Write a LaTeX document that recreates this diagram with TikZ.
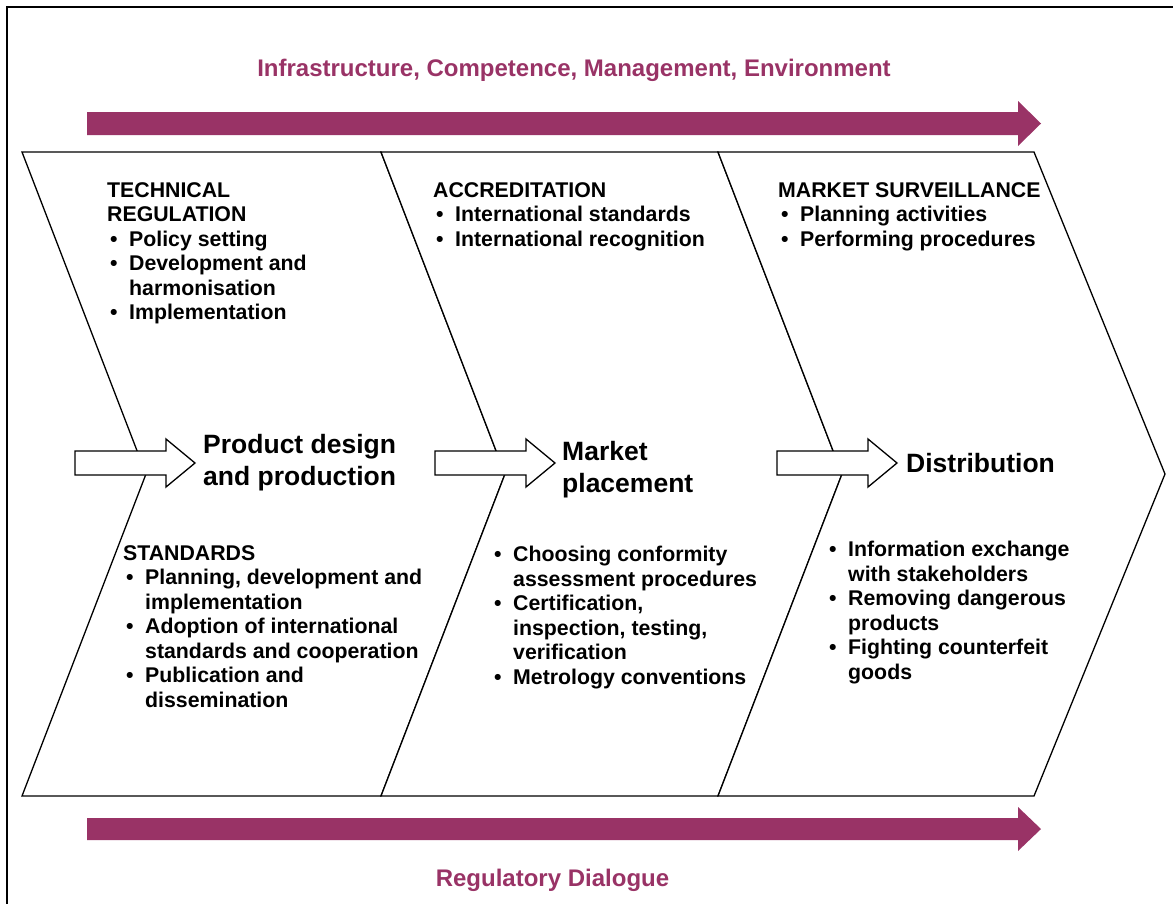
\documentclass[tikz,border=0pt]{standalone}
\usepackage{fontspec}
\setmainfont{Liberation Sans}
\usepackage{tikz}
\usetikzlibrary{positioning}
\definecolor{plum}{RGB}{153,51,102}
\newcommand{\blt}{\makebox[22pt][l]{\hspace{3pt}\textbullet}}
\newcommand{\cnt}{\makebox[22pt]{}}

\begin{document}
\begin{tikzpicture}[x=1pt,y=-1pt,
    chev/.style={draw=black, line width=1.3pt, fill=white, line join=miter},
    band/.style={fill=plum, draw=none},
    blockarrow/.style={draw=black, line width=1.3pt, fill=white, line join=miter},
    bandlabel/.style={text=plum, font=\fontsize{24}{28}\selectfont\bfseries, inner sep=0pt, anchor=base},
    stagelabel/.style={font=\fontsize{26.5}{32}\selectfont\bfseries, align=left, inner sep=0pt},
    listbox/.style={font=\fontsize{21.3}{24.5}\selectfont\bfseries, align=left, inner sep=0pt, anchor=north west}]
    \useasboundingbox (0,0) rectangle (1173,903);
    \clip (0,0) rectangle (1173,903);
    \draw[line width=2pt] (7,910) -- (7,7) -- (1180,7);

    % bands top and bottom
    \fill[band] (87,112) -- (1018,112) -- (1018,101) -- (1041,123.5) -- (1018,146) -- (1018,135) -- (87,135) -- cycle;
    \fill[band] (87,818) -- (1018,818) -- (1018,807) -- (1041,829) -- (1018,851) -- (1018,840) -- (87,840) -- cycle;
    \node[bandlabel] (infra) at (574,76) {Infrastructure, Competence, Management, Environment};
    \node[bandlabel] (dialogue) at (552.5,886) {Regulatory Dialogue};

    % the three stages
    \draw[chev] (22,152) -- (381,152) -- (505,474) -- (381,796) -- (22,796) -- (146,474) -- cycle;
    \draw[chev] (381,152) -- (718,152) -- (842,474) -- (718,796) -- (381,796) -- (505,474) -- cycle;
    \draw[chev] (718,152) -- (1034,152) -- (1165,474) -- (1034,796) -- (718,796) -- (842,474) -- cycle;

    \draw[blockarrow, shift={(75,0)}] (0,451) -- (91,451) -- (91,439) -- (120,463) coordinate (t1) -- (91,487) -- (91,475) -- (0,475) -- cycle;
    \draw[blockarrow, shift={(435,0)}] (0,451) -- (91,451) -- (91,439) -- (120,463) coordinate (t2) -- (91,487) -- (91,475) -- (0,475) -- cycle;
    \draw[blockarrow, shift={(777,0)}] (0,451) -- (91,451) -- (91,439) -- (120,463) coordinate (t3) -- (91,487) -- (91,475) -- (0,475) -- cycle;

    \node[stagelabel, right=8pt of t1] (design) {Product design\\and production};
    \node[stagelabel, right=7pt of t2, yshift=-7pt] (placement) {Market\\placement};
    \node[stagelabel, right=9pt of t3] (distrib) {Distribution};

    % upper lists
    \node[listbox] (techreg) at (107,182) {TECHNICAL\\REGULATION\\\blt Policy setting\\\blt Development and\\\cnt harmonisation\\\blt Implementation};
    \node[listbox] (accred) at (433,182) {ACCREDITATION\\\blt International standards\\\blt International recognition};
    \node[listbox] (surv) at (778,182) {MARKET SURVEILLANCE\\\blt Planning activities\\\blt Performing procedures};

    % lower lists
    \node[listbox] (standards) at (123,545) {STANDARDS\\\blt Planning, development and\\\cnt implementation\\\blt Adoption of international\\\cnt standards and cooperation\\\blt Publication and\\\cnt dissemination};
    \node[listbox] (conformity) at (491,546) {\blt Choosing conformity\\\cnt assessment procedures\\\blt Certification,\\\cnt inspection, testing,\\\cnt verification\\\blt Metrology conventions};
    \node[listbox] (exchange) at (826,541) {\blt Information exchange\\\cnt with stakeholders\\\blt Removing dangerous\\\cnt products\\\blt Fighting counterfeit\\\cnt goods};
\end{tikzpicture}
\end{document}
